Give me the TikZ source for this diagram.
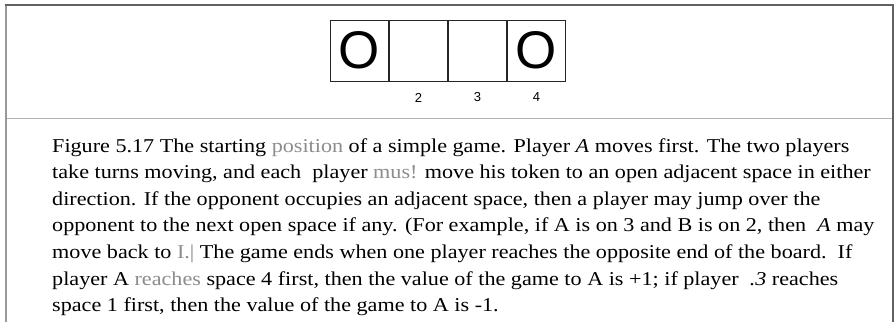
\documentclass[tikz,border=0pt]{standalone}
\usepackage{fontspec}
\setmainfont[FakeStretch=1.13]{Liberation Serif}
\newfontfamily\boardfont{Liberation Sans}
\usetikzlibrary{positioning}

\begin{document}
\begin{tikzpicture}[x=1pt, y=-1pt,
  cell/.style={draw=black!85, line width=1pt, minimum width=58pt, minimum height=61pt,
    inner sep=0pt, font=\boardfont\fontsize{53}{53}\selectfont},
  num/.style={inner sep=0pt, font=\boardfont\fontsize{13}{13}\selectfont},
  caption/.style={inner sep=0pt, align=left, font=\fontsize{19.6}{26.6}\selectfont},
  faded/.style={black!45}]
\useasboundingbox (0,0) rectangle (895,322);
% Frame round the figure
\draw [black!40, line width=2pt] (6,322) -- (6,4.5);
\draw [black!62, line width=2pt] (5,4.5) -- (892.5,4.5) -- (892.5,322);
% Rule between the board and the caption
\draw [black!30, line width=0.8pt, style=double, double distance=1.8pt] (7,119.7) -- (891.5,119.7);
% The board: four spaces, a token on each end
\node [cell] (c1) at (359.5,50.5) {O};
\node [cell, right=0pt of c1] (c2) {};
\node [cell, right=0pt of c2] (c3) {};
\node [cell, right=0pt of c3] (c4) {O};
% Space numbers
\foreach \i in {2,3,4} {
  \node [num] (n\i) at ([yshift=-16pt]c\i.south) {\i};
}
% Caption text
\node [caption, anchor=north west] (cap) at (52,138) {%
Figure 5.17 The starting \textcolor{black!45}{position} of a simple game. Player \textit{A} moves first. The two players\\
take turns moving, and each\ \ player \textcolor{black!45}{mus!} move his token to an open adjacent space in either\\
direction. If the opponent occupies an adjacent space, then a player may jump over the\\
opponent to the next open space if any. (For example, if A is on 3 and B is on 2, then\ \ \textit{A} may\\
move back to \textcolor{black!45}{I.|} The game ends when one player reaches the opposite end of the board.\ \ If\\
player A \textcolor{black!45}{reaches} space 4 first, then the value of the game to A is +1; if player\ \ \textit{.3} reaches\\
space 1 first, then the value of the game to A is -1.};
\end{tikzpicture}
\end{document}
